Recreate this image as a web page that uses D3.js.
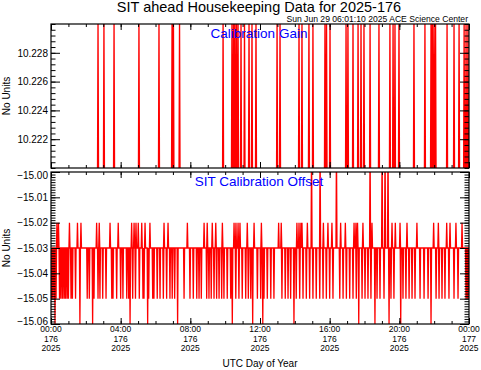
<!DOCTYPE html>
<html>
<head>
<meta charset="utf-8">
<script src="https://cdn.jsdelivr.net/npm/d3@7"></script>
<style>
body { margin: 0; background: #fff; }
svg { font-family: "Liberation Sans", Arial, sans-serif; }
</style>
</head>
<body>
<svg width="481" height="370"></svg>
<script>
// ---- data (hours of day 176) ----
var gainBase = 10.2195;          // below the plotted range
var gainHigh = 10.2305;          // above the plotted range
var gainSpikes = [2.70, 3.04, 3.62, 5.05, 6.20, 6.95, 7.03, 7.38, 9.88, 10.39, 10.48, 10.56,
  10.65, 10.74, 10.91, 11.11, 11.37, 11.54, 11.77, 12.98, 13.15, 14.24, 14.41, 14.81, 15.04,
  15.73, 15.82, 16.02, 16.94, 17.05, 17.34, 17.63, 17.80, 17.97, 18.32, 18.83, 19.46, 19.64,
  19.75, 19.98, 20.84, 21.47, 21.82, 21.90, 21.99, 22.08, 22.74, 23.14, 23.43, 23.72, 23.83, 23.94];

var offsetBase = -15.03;
var offsetUp = [0.34, 0.43, 1.06, 1.52, 1.72, 2.62, 2.77, 3.39, 3.86, 4.63, 4.77, 4.88, 5.01,
  5.21, 5.40, 5.68, 6.49, 6.72, 7.83, 8.79, 8.97, 9.26, 9.46, 9.84, 10.51, 10.62, 10.74, 10.85,
  11.27, 11.66, 12.08, 13.07, 13.22, 14.12, 14.24, 14.35, 14.41, 14.72, 15.64, 15.90, 16.13,
  16.63, 16.90, 17.40, 17.51, 17.60, 17.91, 18.43, 19.58, 19.77, 20.04, 20.44, 21.01, 21.97,
  22.24, 22.72, 22.91, 23.25, 23.60];                         // -15.02
var offsetTop = [14.96, 15.45, 16.39, 18.32, 19.01, 19.18, 19.35];  // -14.99
var offsetDown = [0.03, 0.11, 0.20, 0.29, 0.49, 0.57, 0.66, 0.75, 0.83, 0.92, 1.00, 1.15, 1.23,
  1.41, 2.08, 2.20, 2.47, 2.70, 2.81, 2.97, 3.16, 3.49, 3.56, 3.77, 4.00, 4.13, 4.35, 4.46,
  4.69, 4.85, 5.07, 5.28, 5.34, 5.61, 5.84, 5.91, 6.10, 6.26, 6.45, 6.64, 6.83, 6.96, 7.10,
  7.64, 7.98, 8.17, 8.37, 8.50, 8.63, 8.94, 9.07, 9.20, 9.36, 9.51, 9.65, 9.80, 9.93, 10.12,
  10.32, 10.61, 10.79, 10.98, 11.18, 11.33, 11.47, 11.85, 12.04, 12.23, 12.42, 12.62, 12.80,
  13.26, 13.45, 13.61, 13.76, 14.08, 14.28, 14.47, 14.66, 14.85, 15.04, 15.23, 15.43, 15.62,
  15.81, 16.00, 16.19, 16.58, 16.77, 16.96, 17.15, 17.34, 17.53, 17.86, 18.03, 18.20, 18.37,
  18.72, 18.89, 19.12, 19.52, 19.69, 20.21, 20.38, 20.56, 20.73, 20.90, 21.19, 21.42, 21.65,
  22.11, 22.28, 22.45, 22.62, 22.85, 23.14, 23.37, 23.83, 23.91, 24.00];   // -15.05
var offsetBottom = [0.23, 1.66, 2.39, 4.54, 5.55, 7.27, 10.41, 11.58, 12.16, 13.95, 17.67,
  18.60, 19.41, 20.08, 21.82];                                // -15.06

var hourTicks = [0, 4, 8, 12, 16, 20, 24];
var timeLabels = ["00:00", "04:00", "08:00", "12:00", "16:00", "20:00", "00:00"];
var dayLabels = ["176", "176", "176", "176", "176", "176", "177"];
var yearLabels = ["2025", "2025", "2025", "2025", "2025", "2025", "2025"];
var gainTicks = [10.222, 10.224, 10.226, 10.228];
var offsetTicks = [-15.00, -15.01, -15.02, -15.03, -15.04, -15.05, -15.06];

// ---- layout ----
var svg = d3.select("svg");
var x0 = 51, x1 = 469;
var x = d3.scaleLinear().domain([0, 24]).range([x0, x1]);
var yGain = d3.scaleLinear().domain([10.220, 10.230]).range([168, 24]);
var yOff = d3.scaleLinear().domain([-15.06, -15.00]).range([324, 172]);

var buildSeries = function(base, groups) {
  var ev = [];
  groups.forEach(function(g) {
    g[0].forEach(function(t) { ev.push({t: t, v: g[1]}); });
  });
  ev.sort(function(a, b) { return a.t - b.t; });
  var pts = [{t: 0, v: base}];
  ev.forEach(function(e) {
    pts.push({t: e.t - 0.03, v: base});
    pts.push(e);
    pts.push({t: e.t + 0.03, v: base});
  });
  pts.push({t: 24, v: base});
  return pts;
};

var drawPanel = function(id, y, ticks, minorStep, fmt, series) {
  var top = y.range()[1], bottom = y.range()[0];
  var g = svg.append("g");

  g.append("clipPath").attr("id", id)
    .append("rect").attr("x", x0).attr("y", top).attr("width", x1 - x0).attr("height", bottom - top);

  var line = d3.line().x(function(d) { return x(d.t); }).y(function(d) { return y(d.v); });
  g.append("path").datum(series)
    .attr("clip-path", "url(#" + id + ")")
    .attr("fill", "none").attr("stroke", "#ff0000").attr("stroke-width", 1.3)
    .attr("d", line);

  var d0 = y.domain()[0], d1 = y.domain()[1];
  var minors = d3.range(Math.round((d1 - d0) / minorStep) + 1).map(function(i) { return d0 + i * minorStep; });
  var hours = d3.range(25);

  var ax = function(axis, tx, ty) {
    var a = g.append("g").attr("transform", "translate(" + tx + "," + ty + ")").call(axis);
    a.select(".domain").remove();
    a.selectAll("line").attr("stroke", "#000");
    return a;
  };

  ax(d3.axisLeft(y).tickValues(minors).tickSize(-4.5).tickFormat(""), x0, 0);
  ax(d3.axisRight(y).tickValues(minors).tickSize(-4.5).tickFormat(""), x1, 0);
  var left = ax(d3.axisLeft(y).tickValues(ticks).tickSize(-9).tickPadding(3).tickFormat(fmt), x0, 0);
  left.selectAll("text").attr("font-size", 10).attr("fill", "#000")
    .attr("font-family", "Liberation Sans, Arial, sans-serif");
  ax(d3.axisRight(y).tickValues(ticks).tickSize(-9).tickFormat(""), x1, 0);

  ax(d3.axisBottom(x).tickValues(hours).tickSize(-3).tickFormat(""), 0, bottom);
  ax(d3.axisTop(x).tickValues(hours).tickSize(-3).tickFormat(""), 0, top);
  ax(d3.axisBottom(x).tickValues(hourTicks).tickSize(-6).tickFormat(""), 0, bottom);
  ax(d3.axisTop(x).tickValues(hourTicks).tickSize(-6).tickFormat(""), 0, top);

  g.append("rect").attr("x", x0).attr("y", top).attr("width", x1 - x0).attr("height", bottom - top)
    .attr("fill", "none").attr("stroke", "#000").attr("stroke-width", 1.2);

  g.append("text").attr("transform", "translate(10," + ((top + bottom) / 2) + ") rotate(-90)")
    .attr("text-anchor", "middle").attr("font-size", 10).text("No Units");
  return left;
};

drawPanel("clipGain", yGain, gainTicks, 0.0004, d3.format(".3f"),
  buildSeries(gainBase, [[gainSpikes, gainHigh]]));

var offLeft = drawPanel("clipOff", yOff, offsetTicks, 0.001, d3.format(".2f"),
  buildSeries(offsetBase, [[offsetUp, -15.02], [offsetTop, -14.99], [offsetDown, -15.05], [offsetBottom, -15.06]]));
// edge labels sit just inside the frame
offLeft.selectAll("text").attr("dy", function(d) {
  if (d === -15.00) return "0.68em";
  if (d === -15.06) return "0.0em";
  return "0.32em";
});

// x labels (bottom panel only), three stacked rows
var xl = svg.append("g").attr("font-size", 8.5).attr("text-anchor", "middle");
var rows = [timeLabels, dayLabels, yearLabels];
rows.forEach(function(labels, r) {
  xl.selectAll(null).data(hourTicks).enter().append("text")
    .attr("x", function(d) { return x(d); })
    .attr("y", 332 + r * 9.6)
    .text(function(d, i) { return labels[i]; });
});

svg.append("text").attr("x", 260).attr("y", 367).attr("text-anchor", "middle")
  .attr("font-size", 10).text("UTC Day of Year");

svg.append("text").attr("x", 259).attr("y", 12).attr("text-anchor", "middle")
  .attr("font-size", 14.5).text("SIT ahead Housekeeping Data for 2025-176");
svg.append("text").attr("x", 468).attr("y", 22).attr("text-anchor", "end")
  .attr("font-size", 8.6).text("Sun Jun 29 06:01:10 2025 ACE Science Center");

svg.append("text").attr("x", 259).attr("y", 38).attr("text-anchor", "middle")
  .attr("font-size", 13.5).attr("fill", "#0000ff").text("Calibration Gain");
svg.append("text").attr("x", 259).attr("y", 186).attr("text-anchor", "middle")
  .attr("font-size", 13.5).attr("fill", "#0000ff").text("SIT Calibration Offset");
</script>
</body>
</html>
